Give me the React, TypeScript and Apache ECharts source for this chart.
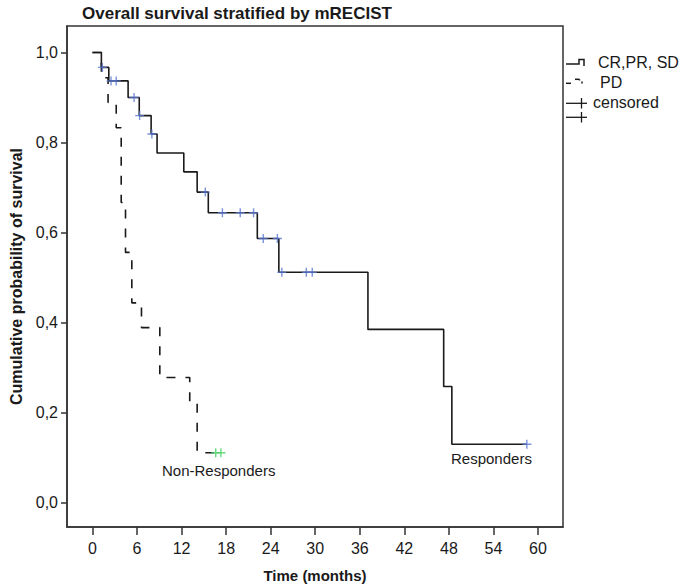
import React, { useEffect, useRef } from "react";
import * as echarts from "echarts";

// Responders (CR, PR, SD): event times (months) and survival after each event
const responderTimes = [0, 1.2, 2.2, 4.8, 6.3, 7.9, 8.7, 12.3, 14.1, 15.6, 22.2, 25.1, 37.1, 47.3, 48.4, 58.5];
const responderSurvival = [1.0, 0.967, 0.937, 0.9, 0.86, 0.819, 0.777, 0.735, 0.69, 0.644, 0.587, 0.512, 0.385, 0.258, 0.13, 0.13];
const responderCensorTimes = [1.33, 2.5, 3.2, 5.6, 6.35, 8.0, 15.2, 17.5, 19.9, 21.7, 23.0, 24.9, 25.5, 28.8, 29.6, 58.5];

// Non-responders (PD)
const pdTimes = [0, 1.2, 2.1, 3.2, 3.87, 4.45, 5.3, 6.6, 9.07, 13.1, 14.1, 17.3];
const pdSurvival = [1.0, 0.944, 0.889, 0.833, 0.667, 0.556, 0.444, 0.389, 0.278, 0.222, 0.111, 0.111];
const pdCensorTimes = [16.6, 17.3];

const xTicks = [0, 6, 12, 18, 24, 30, 36, 42, 48, 54, 60];
const yTicks = [0, 0.2, 0.4, 0.6, 0.8, 1.0];

const FONT = "'Liberation Sans', Arial, sans-serif";
const BLUE = "#5a78d4";
const GREEN = "#45d05e";
const INK = "#1a1a1a";

function survivalAt(times: number[], surv: number[], t: number) {
  let v = surv[0];
  for (let i = 0; i < times.length; i++) if (times[i] <= t) v = surv[i];
  return v;
}

const CROSS = "path://M5,0L5,10M0,5L10,5";

export default function App() {
  const ref = useRef<HTMLDivElement>(null);
  useEffect(() => {
    document.body.style.margin = "0";
    if (!ref.current) return;
    const chart = echarts.init(ref.current, null, { renderer: "svg" });
    const option: any = {
      animation: false,
      backgroundColor: "#ffffff",
      title: {
        text: "Overall survival stratified by mRECIST",
        left: 77,
        top: 0,
        textStyle: { fontFamily: FONT, fontSize: 17, fontWeight: "bold", color: INK },
      },
      grid: {
        left: 62,
        top: 26,
        width: 501,
        height: 502,
        show: true,
        borderColor: "#333",
        borderWidth: 1.5,
        backgroundColor: "#ffffff",
      },
      xAxis: {
        type: "value",
        min: -3.43,
        max: 63.37,
        name: "Time (months)",
        nameLocation: "middle",
        nameGap: 41,
        nameTextStyle: { fontFamily: FONT, fontSize: 15, fontWeight: "bold", color: INK },
        axisLine: { show: true, onZero: false, lineStyle: { color: "#333", width: 1.5 } },
        axisTick: { show: true, length: 8, customValues: xTicks, lineStyle: { color: "#333", width: 1.5 } },
        axisLabel: {
          customValues: xTicks,
          margin: 13,
          fontFamily: FONT,
          fontSize: 16,
          color: INK,
          formatter: (v: number) => String(Math.round(v)),
        },
        splitLine: { show: false },
      },
      yAxis: {
        type: "value",
        min: -0.054,
        max: 1.059,
        name: "Cumulative probability of survival",
        nameLocation: "middle",
        nameGap: 43,
        nameTextStyle: { fontFamily: FONT, fontSize: 16, fontWeight: "bold", color: INK },
        axisLine: { show: true, onZero: false, lineStyle: { color: "#333", width: 1.5 } },
        axisTick: { show: true, length: 6, customValues: yTicks, lineStyle: { color: "#333", width: 1.5 } },
        axisLabel: {
          customValues: yTicks,
          margin: 9,
          fontFamily: FONT,
          fontSize: 16,
          color: INK,
          formatter: (v: number) => v.toFixed(1).replace(".", ","),
        },
        splitLine: { show: false },
      },
      series: [
        {
          name: "CR,PR, SD",
          type: "line",
          step: "end",
          symbol: "none",
          data: responderTimes.map((t, i) => [t, responderSurvival[i]]),
          lineStyle: { color: INK, width: 1.6 },
          z: 2,
        },
        {
          name: "PD",
          type: "line",
          step: "end",
          symbol: "none",
          data: pdTimes.map((t, i) => [t, pdSurvival[i]]),
          lineStyle: { color: INK, width: 1.6, type: [9, 10] },
          z: 2,
        },
        {
          name: "censored",
          type: "scatter",
          symbol: CROSS,
          symbolSize: 9,
          data: responderCensorTimes.map((t) => [t, survivalAt(responderTimes, responderSurvival, t)]),
          itemStyle: { color: "none", borderColor: BLUE, borderWidth: 1.4 },
          z: 3,
        },
        {
          name: "censored PD",
          type: "scatter",
          symbol: CROSS,
          symbolSize: 9,
          data: pdCensorTimes.map((t) => [t, survivalAt(pdTimes, pdSurvival, t)]),
          itemStyle: { color: "none", borderColor: GREEN, borderWidth: 1.4 },
          z: 3,
        },
      ],
      graphic: [
        // group annotations
        {
          type: "text",
          left: 162,
          top: 463,
          style: { text: "Non-Responders", font: `15px ${FONT}`, fill: INK },
        },
        {
          type: "text",
          left: 451,
          top: 451,
          style: { text: "Responders", font: `15px ${FONT}`, fill: INK },
        },
        // legend
        {
          type: "polyline",
          shape: { points: [[566, 64], [579, 64], [579, 59.5], [584, 59.5], [584, 66]] },
          style: { stroke: INK, lineWidth: 1.5, fill: "none" },
        },
        {
          type: "text",
          left: 598,
          top: 54,
          style: { text: "CR,PR, SD", font: `16px ${FONT}`, fill: INK },
        },
        { type: "line", shape: { x1: 566, y1: 83.3, x2: 571, y2: 83.3 }, style: { stroke: INK, lineWidth: 1.5 } },
        { type: "line", shape: { x1: 575, y1: 79.3, x2: 579.5, y2: 79.3 }, style: { stroke: INK, lineWidth: 1.5 } },
        { type: "line", shape: { x1: 579.5, y1: 79.3, x2: 579.5, y2: 80.5 }, style: { stroke: INK, lineWidth: 1.5 } },
        { type: "line", shape: { x1: 582, y1: 81.5, x2: 582, y2: 83.5 }, style: { stroke: INK, lineWidth: 1.5 } },
        {
          type: "text",
          left: 600,
          top: 74,
          style: { text: "PD", font: `16px ${FONT}`, fill: INK },
        },
        { type: "line", shape: { x1: 566, y1: 103.3, x2: 587, y2: 103.3 }, style: { stroke: INK, lineWidth: 1.3 } },
        { type: "line", shape: { x1: 581.5, y1: 98, x2: 581.5, y2: 108.5 }, style: { stroke: INK, lineWidth: 1.3 } },
        {
          type: "text",
          left: 593,
          top: 94,
          style: { text: "censored", font: `16px ${FONT}`, fill: INK },
        },
        { type: "line", shape: { x1: 566, y1: 117.3, x2: 587, y2: 117.3 }, style: { stroke: INK, lineWidth: 1.3 } },
        { type: "line", shape: { x1: 581.5, y1: 112, x2: 581.5, y2: 122.5 }, style: { stroke: INK, lineWidth: 1.3 } },
      ],
    };
    chart.setOption(option);
    return () => chart.dispose();
  }, []);
  return <div ref={ref} style={{ width: 685, height: 588 }} />;
}
